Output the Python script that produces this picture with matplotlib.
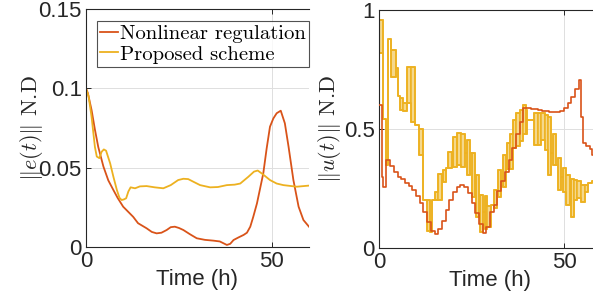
import numpy as np
import matplotlib.pyplot as plt

plt.rcParams['mathtext.fontset'] = 'cm'
plt.rcParams['font.family'] = ['Liberation Sans', 'DejaVu Sans']

red = '#D95319'
yel = '#EDB120'
ink = '#262626'

# left panel: tracking error norm
e_nl_t = [0, 0.5, 1.5, 2.4, 3.3, 4.7, 6, 7.35, 8.5, 10, 12.7, 14, 16.3, 17.7, 19, 20.3, 21.7,
          22.8, 23.9, 25, 26.2, 28, 29.8, 32, 34.3, 36, 37.9, 38.8, 39.7, 41, 42.4, 43.3,
          44.2, 45, 46, 47.7, 48.6, 49.5, 50.4, 51.3, 52.4, 53.5, 54.5, 55.8, 57.2, 58.5, 60]
e_nl = [0.1, 0.097, 0.0863, 0.074, 0.063, 0.0506, 0.042, 0.036, 0.031, 0.0254, 0.019, 0.015,
        0.0118, 0.0095, 0.0086, 0.009, 0.0107, 0.0125, 0.0128, 0.012, 0.0107, 0.008, 0.0055,
        0.0045, 0.004, 0.0035, 0.0013, 0.002, 0.0044, 0.006, 0.0076, 0.009, 0.0128, 0.019,
        0.0275, 0.0464, 0.062, 0.0758, 0.081, 0.0843, 0.0859, 0.078, 0.0632, 0.0422, 0.0254,
        0.017, 0.0128]

e_pr_t = [0, 0.7, 1.5, 2.4, 2.9, 3.6, 4.2, 4.8, 5.4, 6.5, 7.4, 8.3, 9.0, 9.6, 10.2, 10.8,
          11.4, 12.0, 13.2, 14.5, 16.3, 18.5, 20.8, 22.8, 24.8, 26.2, 27.5, 29.0, 30.7, 33.4,
          35.5, 37.9, 40.0, 41.5, 43.7, 45.2, 46.2, 47.5, 49.5, 51.3, 53.1, 56.7, 60]
e_pr = [0.1, 0.095, 0.082, 0.063, 0.057, 0.056, 0.060, 0.0615, 0.0607, 0.0527, 0.044, 0.036,
        0.031, 0.0296, 0.030, 0.0307, 0.035, 0.0376, 0.037, 0.0382, 0.0384, 0.0376, 0.037,
        0.039, 0.0422, 0.043, 0.0428, 0.041, 0.039, 0.0376, 0.0378, 0.039, 0.0393, 0.040,
        0.0443, 0.0475, 0.0482, 0.046, 0.0422, 0.040, 0.039, 0.038, 0.0387]

# right panel: control input norm (piecewise constant)
u_nl_t = [0, 0.8, 1.2, 1.9, 3, 4, 5, 6, 7, 8, 9, 10, 11, 12, 13, 14, 15, 16, 17, 18, 19,
          20, 21, 22, 23, 24, 25, 26, 27, 28, 29, 30, 31, 32, 33, 34, 35, 36, 37, 38, 39,
          40, 41, 42, 43, 44, 45, 46, 47, 48, 49, 50, 51, 52, 53, 54, 54.5, 55.1, 56, 57,
          57.6, 59]
u_nl = [0.60, 0.30, 0.258, 0.37, 0.345, 0.32, 0.30, 0.29, 0.275, 0.26, 0.245, 0.22, 0.19,
        0.15, 0.11, 0.07, 0.057, 0.08, 0.115, 0.16, 0.20, 0.235, 0.255, 0.265, 0.255, 0.23,
        0.19, 0.145, 0.10, 0.062, 0.09, 0.15, 0.18, 0.24, 0.28, 0.32, 0.37, 0.42, 0.48,
        0.53, 0.59, 0.587, 0.585, 0.582, 0.58, 0.577, 0.575, 0.573, 0.572, 0.572, 0.575,
        0.59, 0.61, 0.635, 0.67, 0.705, 0.55, 0.44, 0.43, 0.415, 0.39, 0.38]

# proposed scheme: each hold interval has a low and high level (chattering band)
u_pr_t = [0, 1.1, 1.9, 2.4, 3.2, 4.5, 5.0, 5.7, 6.5, 7.5, 8.6, 9.7, 10.9, 12.0, 13.0, 13.9,
          14.4, 15.0, 16.0, 16.9, 17.2, 18.1, 18.7, 19.6, 20.0, 21.0, 21.2, 22.2, 23.2, 23.7,
          24.6, 25.0, 25.9, 26.3, 27.1, 27.2, 28.1, 28.6, 29.3, 30.2, 31.0, 32.0, 32.2, 33.1,
          33.5, 34.2, 34.5, 35.3, 36.2, 37.1, 38.0, 38.8, 39.6, 40.1, 41.8, 43.0, 43.9, 44.8,
          45.7, 46.6, 47.0, 47.9, 48.4, 49.3, 49.7, 50.6, 51.5, 51.8, 52.7, 53.6, 54.7, 55.6,
          56.5, 57.6, 59]
u_pr_lo = [0.82, 0.54, 0.35, 0.88, 0.72, 0.755, 0.64, 0.58, 0.575, 0.61, 0.53, 0.515, 0.39,
           0.20, 0.07, 0.069, 0.20, 0.20, 0.20, 0.28, 0.279, 0.335, 0.335, 0.34, 0.342, 0.35,
           0.349, 0.342, 0.40, 0.307, 0.40, 0.216, 0.30, 0.13, 0.22, 0.069, 0.15, 0.08, 0.09,
           0.18, 0.17, 0.22, 0.216, 0.26, 0.258, 0.33, 0.33, 0.33, 0.42, 0.43, 0.45, 0.48,
           0.48, 0.538, 0.433, 0.433, 0.454, 0.41, 0.307, 0.40, 0.35, 0.35, 0.244, 0.30, 0.237,
           0.18, 0.25, 0.13, 0.20, 0.21, 0.195, 0.237, 0.272, 0.28, 0.28]
u_pr_hi = [0.96, 0.54, 0.35, 0.88, 0.83, 0.755, 0.64, 0.63, 0.61, 0.76, 0.76, 0.515, 0.50,
           0.20, 0.20, 0.069, 0.20, 0.237, 0.31, 0.28, 0.328, 0.335, 0.405, 0.34, 0.468, 0.35,
           0.482, 0.478, 0.40, 0.454, 0.40, 0.40, 0.30, 0.307, 0.22, 0.223, 0.15, 0.22, 0.175,
           0.18, 0.244, 0.22, 0.328, 0.26, 0.39, 0.33, 0.44, 0.48, 0.538, 0.566, 0.58, 0.60,
           0.58, 0.538, 0.566, 0.566, 0.566, 0.56, 0.55, 0.40, 0.48, 0.35, 0.377, 0.30, 0.335,
           0.307, 0.25, 0.29, 0.286, 0.28, 0.265, 0.265, 0.272, 0.28, 0.28]

fig = plt.figure(figsize=(5.93, 2.95), dpi=100)
ax1 = fig.add_axes([86/593, 48/295, 223/593, 238/295])
ax2 = fig.add_axes([379/593, 47/295, 222/593, 238/295])

ax1.plot(e_nl_t, e_nl, color=red, lw=1.3, label='Nonlinear regulation')
ax1.plot(e_pr_t, e_pr, color=yel, lw=1.3, label='Proposed scheme')
ax1.set_xlim(0, 60)
ax1.set_ylim(0, 0.15)
ax1.set_yticks([0, 0.05, 0.1, 0.15], ['0', '0.05', '0.1', '0.15'])
ax1.set_ylabel(r'$\|e(t)\|$ N.D', fontsize=16, color=ink, family=['cmr10', 'DejaVu Sans'])
ax1.yaxis.set_label_coords(-0.185, 0.5)
leg = ax1.legend(loc='upper left', bbox_to_anchor=(0.05, 0.948),
                 prop={'family': 'cmr10', 'size': 14.9},
                 frameon=True, fancybox=False, handlelength=0.85, handletextpad=0.1,
                 borderpad=0.15, labelspacing=0.1, borderaxespad=0)
leg.get_frame().set_edgecolor(ink)
leg.get_frame().set_linewidth(0.8)

tt = np.array(u_pr_t + [60])
lo = np.array(u_pr_lo)
hi = np.array(u_pr_hi)
band = hi > lo
widths = np.diff(tt)
ax2.bar(tt[:-1][band], (hi - lo)[band], bottom=lo[band], width=widths[band], align='edge',
        color='#F5D88C', edgecolor=yel, lw=1.1, zorder=2)
ax2.step(tt, np.append(lo, lo[-1]), where='post', color=yel, lw=1.2, zorder=2)
ax2.step(tt, np.append(hi, hi[-1]), where='post', color=yel, lw=1.2, zorder=2)
ax2.step(u_nl_t + [60], u_nl + [u_nl[-1]], where='post', color=red, lw=1.2, zorder=3)
ax2.set_xlim(0, 60)
ax2.set_ylim(0, 1)
ax2.set_yticks([0, 0.5, 1], ['0', '0.5', '1'])
ax2.set_ylabel(r'$\|u(t)\|$ N.D', fontsize=16, color=ink, family=['cmr10', 'DejaVu Sans'])
ax2.yaxis.set_label_coords(-0.16, 0.5)

for ax in (ax1, ax2):
    ax.set_xticks([0, 50], ['0', '50'])
    ax.set_xlabel('Time (h)', fontsize=16, color=ink, labelpad=-2)
    ax.grid(True, color='#dedede', lw=0.7)
    ax.set_axisbelow(True)
    ax.tick_params(direction='in', length=3.5, width=0.7, colors=ink, labelsize=16,
                   top=True, right=False, pad=3)
    for s in ('left', 'bottom', 'top'):
        ax.spines[s].set_color(ink)
        ax.spines[s].set_linewidth(0.8)
    ax.spines['right'].set_visible(False)

fig.savefig('out.png', dpi=100)
